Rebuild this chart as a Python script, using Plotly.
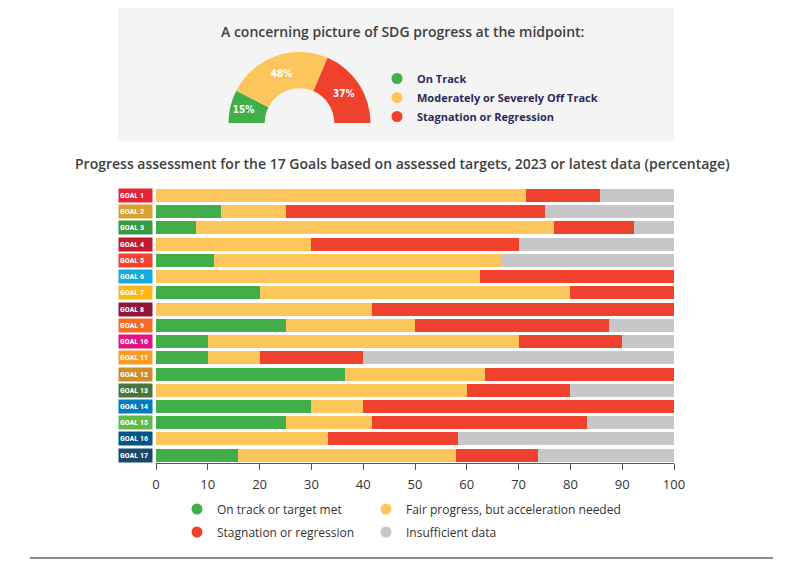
import plotly.graph_objects as go

# ---------------- data ----------------
goals = [f"GOAL {i}" for i in range(1, 18)]
goal_colors = ["#E5243B", "#D9A22F", "#3A9A45", "#C5192D", "#F2432B", "#14ACDD",
               "#FDB713", "#8F1838", "#F36D25", "#E11484", "#F99D26", "#CF8D2A",
               "#48773E", "#007DBC", "#5DBB46", "#02558B", "#19486A"]

on_track     = [0, 12.5, 7.7, 0, 11.1, 0, 20, 0, 25, 10, 10, 36.4, 0, 30, 25, 0, 15.8]
fair         = [71.4, 12.5, 69.2, 30, 55.6, 62.5, 60, 41.7, 25, 60, 10, 27.2, 60, 10, 16.7, 33.3, 42.1]
stagnation   = [14.3, 50, 15.4, 40, 0, 37.5, 20, 58.3, 37.5, 20, 20, 36.4, 20, 60, 41.6, 25, 15.8]
insufficient = [14.3, 25, 7.7, 30, 33.3, 0, 0, 0, 12.5, 10, 60, 0, 20, 0, 16.7, 41.7, 26.3]

series_names = ["On track or target met", "Fair progress, but acceleration needed",
                "Stagnation or regression", "Insufficient data"]
series_colors = ["#40AE49", "#FDC65C", "#EF412B", "#C7C7C9"]

gauge_labels = ["On Track", "Moderately or Severely Off Track", "Stagnation or Regression"]
gauge_values = [15, 48, 37]
gauge_text = ["15%", "48%", "37%"]

x_ticks = list(range(0, 101, 10))

# ---------------- figure ----------------
W, H = 804, 561
def px_x(p): return p / W
def px_y(p): return (H - p) / H

fig = go.Figure()

for name, vals, col in zip(series_names, [on_track, fair, stagnation, insufficient], series_colors):
    fig.add_trace(go.Bar(y=goals, x=vals, orientation="h", name=name,
                         marker=dict(color=col, line=dict(width=0)),
                         showlegend=False, hovertemplate="%{y}: %{x}%<extra>" + name + "</extra>"))

# legend entries (circles) for bottom legend: one legend per cell of a 2x2 grid
bottom_legends = ["legend", "legend2", "legend3", "legend4"]
for name, col, lg in zip(series_names, series_colors, bottom_legends):
    fig.add_trace(go.Scatter(x=[None], y=[None], mode="markers", name=name,
                             marker=dict(color=col, size=11, symbol="circle"),
                             legend=lg, showlegend=True, hoverinfo="skip"))

# gauge legend
for name, col in zip(gauge_labels, series_colors[:3]):
    fig.add_trace(go.Scatter(x=[None], y=[None], mode="markers", name=name,
                             marker=dict(color=col, size=11, symbol="circle"),
                             legend="legend5", showlegend=True, hoverinfo="skip"))

# semi-donut gauge
fig.add_trace(go.Pie(
    labels=gauge_labels + ["hidden"],
    values=gauge_values + [sum(gauge_values)],
    text=gauge_text + [""],
    textinfo="text", textposition="inside", insidetextorientation="horizontal",
    insidetextfont=dict(color="white", size=10, family="DejaVu Sans Condensed", weight="bold"),
    marker=dict(colors=series_colors[:3] + ["rgba(0,0,0,0)"], line=dict(width=0)),
    hole=0.49, rotation=270, direction="clockwise", sort=False,
    domain=dict(x=[px_x(228), px_x(371)], y=[px_y(194), px_y(52)]),
    showlegend=False, hoverinfo="skip"))

annotations = []
# goal badges
for g, c in zip(goals, goal_colors):
    annotations.append(dict(
        text=f"<b>{g}</b>", xref="paper", yref="y", x=px_x(152.5), y=g,
        xanchor="right", yanchor="middle", showarrow=False, align="left",
        bgcolor=c, width=31, height=11, borderpad=1,
        font=dict(color="white", size=8,
                  family="Roboto Condensed, Liberation Sans Narrow, DejaVu Sans Condensed")))

annotations.append(dict(
    text="A concerning picture of SDG progress at the midpoint:",
    xref="paper", yref="paper", x=px_x(402.5), y=px_y(32), showarrow=False,
    xanchor="center", yanchor="middle",
    font=dict(size=14, color="#404040", family="Open Sans", weight=600)))
annotations.append(dict(
    text="Progress assessment for the 17 Goals based on assessed targets, 2023 or latest data (percentage)",
    xref="paper", yref="paper", x=px_x(402), y=px_y(163), showarrow=False,
    xanchor="center", yanchor="middle",
    font=dict(size=14, color="#404040", family="Open Sans", weight=600)))

shapes = [
    dict(type="rect", xref="paper", yref="paper", x0=px_x(118), x1=px_x(674),
         y0=px_y(141), y1=px_y(8), fillcolor="#F4F4F4", line=dict(width=0), layer="below"),
    dict(type="line", xref="paper", yref="paper", x0=px_x(30), x1=px_x(773),
         y0=px_y(558), y1=px_y(558), line=dict(color="#8A8A8A", width=2)),
]

legend_font = dict(size=12, color="#333333", family="Open Sans")
def bottom_legend(xp, yp):
    return dict(orientation="h", x=px_x(xp), y=px_y(yp), xanchor="left", yanchor="middle",
                font=legend_font, traceorder="normal", bgcolor="rgba(0,0,0,0)")

fig.update_layout(
    width=W, height=H, margin=dict(l=0, r=0, t=0, b=0, autoexpand=False),
    paper_bgcolor="white", plot_bgcolor="white",
    barmode="stack", bargap=0.2,
    xaxis=dict(domain=[px_x(156), px_x(674)], range=[0, 100], tickvals=x_ticks,
               ticks="outside", ticklen=6, tickcolor="#555555", showline=True,
               linecolor="#555555", linewidth=1, showgrid=False, zeroline=False,
               ticklabelstandoff=3,
               tickfont=dict(size=13, color="#333333", family="Open Sans"), fixedrange=True),
    yaxis=dict(domain=[px_y(463.3), px_y(187.3)], categoryorder="array", categoryarray=goals,
               range=[16.5, -0.5], showticklabels=False, showgrid=False, zeroline=False,
               showline=False, ticks="", fixedrange=True),
    legend=bottom_legend(177, 509),
    legend2=bottom_legend(366, 509),
    legend3=bottom_legend(177, 532),
    legend4=bottom_legend(366, 532),
    legend5=dict(orientation="v", x=px_x(377), y=px_y(64), xanchor="left", yanchor="top",
                 font=dict(size=11, color="#2B2A5C", family="Open Sans", weight="bold"),
                 tracegroupgap=0, traceorder="normal", bgcolor="rgba(0,0,0,0)"),
    annotations=annotations, shapes=shapes,
)

fig.write_html("out.html", config={"displayModeBar": False},
               post_script="document.body.style.margin='0px';document.body.style.overflow='hidden';")
